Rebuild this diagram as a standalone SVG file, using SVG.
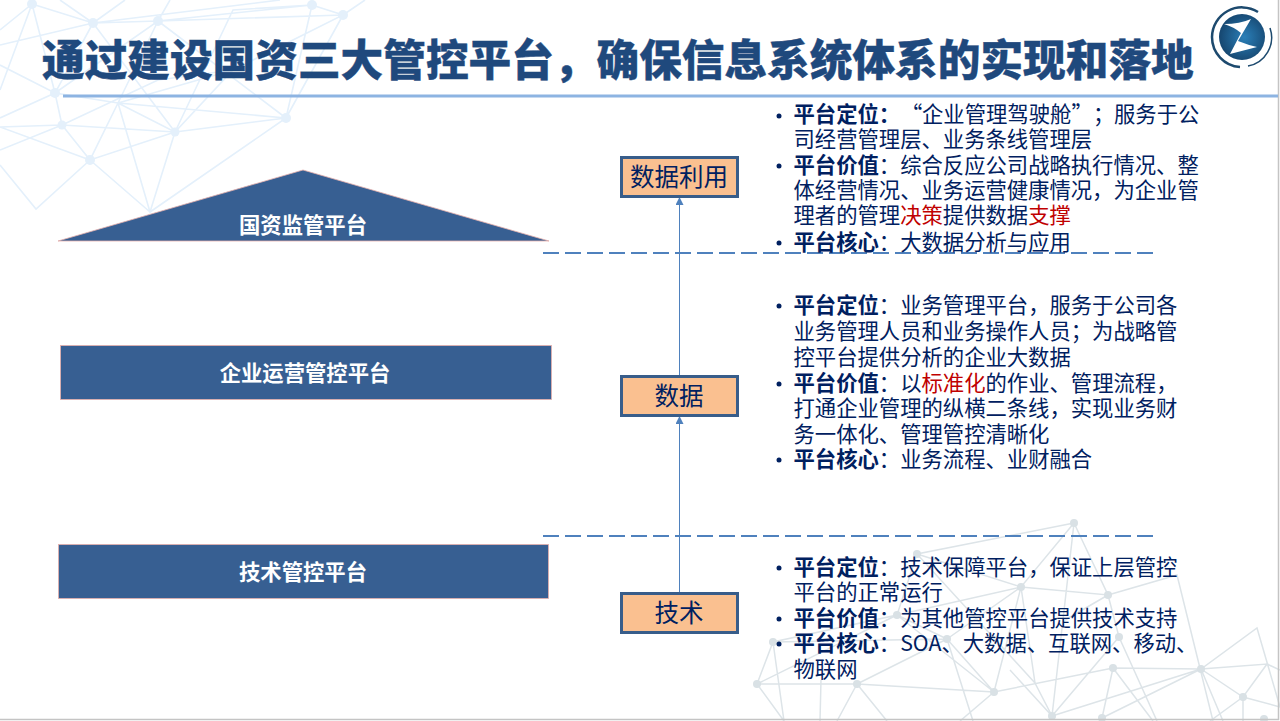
<svg xmlns="http://www.w3.org/2000/svg" width="1280" height="721" viewBox="0 0 1280 721">
<defs>
<style>
text{font-family:"Noto Sans CJK SC","Microsoft YaHei","Noto Sans",sans-serif;text-spacing-trim:space-all}
.title{font-size:42.67px;font-weight:900;fill:#1f497d;stroke:#1f497d;stroke-width:.4px}
.plat{fill:#375f92;stroke:#e6b0ac;stroke-width:.8}
.pl{font-size:21.33px;font-weight:700;fill:#fff;text-anchor:middle}
.box{fill:#fac090;stroke:#385d8a;stroke-width:3}
.bl{font-size:24.5px;fill:#002060;text-anchor:middle}
.body{font-size:21.33px;fill:#002060}
.body .b{font-weight:700}
.body .r{fill:#c00000}
.dot{fill:#002060}
.dash{stroke:#4f81bd;stroke-width:2;stroke-dasharray:16 6;fill:none}
.arr{stroke:#4f81bd;stroke-width:1;fill:none;marker-end:url(#ah)}
.nb{stroke:#e4f0fb;stroke-width:1.6;fill:none}
.nbd{fill:#e4f0fb}
.ng{stroke:#dde4e8;stroke-width:1.5;fill:none}
.ngd{fill:#d9e1e5}
</style>
<marker id="ah" markerUnits="userSpaceOnUse" markerWidth="10" markerHeight="10" refX="8" refY="4" orient="auto"><path d="M0 0L8 4L0 8z" fill="#4f81bd"/></marker>
<radialGradient id="lg" cx=".55" cy=".5" r=".55"><stop offset="0" stop-color="#2a7fb8"/><stop offset="1" stop-color="#16466f"/></radialGradient>
</defs>
<rect width="1280" height="721" fill="#fff"/>
<g id="bg-net-top">
<path class="nb" d="M32 4L93 23L158 21L312 5L343 15L233 70L175 132L118 103L55 93L0 65M93 23L55 93L62 125L0 150M158 21L118 103L90 160L175 132L150 212L118 103M32 4L55 93L118 103L286 118M93 23L175 132M158 21L286 118M312 5L233 10L175 132M312 5L158 21L55 93L0 118M343 15L158 21L93 23L0 45M90 160L36 209L0 165M90 160L150 212M286 118L150 212M175 132L286 118M62 125L90 160L118 103M62 125L175 132M32 4L0 30M93 23L125 0M158 21L170 0M93 23L60 0M343 15L365 0M286 118L343 15M62 125L0 127M90 160L0 127M32 4L0 90M93 23L280 0M233 70L118 103M62 125L158 80L233 70M312 5L286 118"/>
<g class="nbd"><circle cx="32" cy="4" r="5"/><circle cx="93" cy="23" r="5"/><circle cx="158" cy="21" r="5"/><circle cx="312" cy="5" r="5"/><circle cx="343" cy="15" r="5"/><circle cx="55" cy="93" r="5"/><circle cx="62" cy="125" r="4.500"/><circle cx="175" cy="132" r="4.500"/><circle cx="286" cy="118" r="5"/><circle cx="90" cy="160" r="5"/></g>
</g>
<g id="bg-net-bottom">
<path class="ng" d="M1074 523L917 554L897 615L773 642L757 684L857 684L994 692L1113 668L1201 669L1257 628L1280 707M1074 523L1021 587L917 554M1074 523L1108 595L1021 587L897 615M1074 523L1052 716M1108 595L1177 575L1213 721M1108 595L1119 637L1157 721M1021 587L1035 683L1052 716M1113 668L1102 718M1201 669L1267 664L1243 697L1201 669M1267 664L1280 670M1243 697L1243 721M1243 697L1210 721M1201 669L1052 716M1201 669L1102 718M1201 669L1223 721M1243 697L1280 707M1010 670L1052 716M1113 668L1153 721M757 684L897 615M773 642L947 639L994 692M773 642L784 721M757 684L784 721M857 684L947 639M857 684L837 721M857 684L887 721M821 680L820 721M897 615L947 639M897 615L994 692M947 639L1021 587M947 639L973 721M1065 620L1108 595M917 554L1035 683M994 692L960 721M1021 587L994 692M1119 637L1052 716"/>
<g class="ngd"><circle cx="1074" cy="523" r="4"/><circle cx="917" cy="554" r="4"/><circle cx="1021" cy="587" r="4"/><circle cx="1108" cy="595" r="4"/><circle cx="897" cy="615" r="4"/><circle cx="773" cy="642" r="4"/><circle cx="947" cy="639" r="4"/><circle cx="1119" cy="637" r="4"/><circle cx="757" cy="684" r="4"/><circle cx="857" cy="684" r="4"/><circle cx="994" cy="692" r="4"/><circle cx="1113" cy="668" r="4"/><circle cx="1201" cy="669" r="4"/><circle cx="1243" cy="697" r="4"/><circle cx="1052" cy="716" r="4"/><circle cx="1102" cy="718" r="4"/><circle cx="1264" cy="719" r="4"/></g>
</g>
<path d="M1278.500 0V719.500H0" fill="none" stroke="#c4c4c4" stroke-width="1.500"/>
<g id="title"><text class="title" x="42" y="76">通过建设国资三大管控平台，确保信息系统体系的实现和落地</text><rect x="63" y="94.500" width="1215" height="3" fill="#8db4e2"/></g>
<g id="logo">
<circle cx="1242" cy="37" r="23" fill="url(#lg)"/>
<path d="M1258 12A30 30 0 0 0 1212 37A30 30 0 0 0 1240 67" fill="none" stroke="#1d4a6e" stroke-width="2.500"/>
<path d="M1270 28A29 29 0 0 1 1248 66" fill="none" stroke="#1d4a6e" stroke-width="1.500"/>
<path d="M1224 24Q1240 24 1251 19L1238 41Q1248 45 1257 47L1230 54L1241 33Q1234 27 1224 24z" fill="#fff"/>
</g>
<g id="connectors">
<line class="dash" x1="543" y1="253" x2="1153" y2="253"/>
<line class="dash" x1="543" y1="536" x2="1153" y2="536"/>
<line class="arr" x1="679.500" y1="592" x2="679.500" y2="416"/>
<line class="arr" x1="679.500" y1="375" x2="679.500" y2="197"/>
</g>
<g id="node-guozi"><path class="plat" d="M58 241L303 170L549 241z"/><text class="pl" x="303" y="233">国资监管平台</text></g>
<g id="node-qiye"><rect class="plat" x="60.500" y="345.500" width="491" height="54"/><text class="pl" x="305" y="381">企业运营管控平台</text></g>
<g id="node-jishu"><rect class="plat" x="58.500" y="544.500" width="490" height="54"/><text class="pl" x="303" y="580">技术管控平台</text></g>
<g id="node-use"><rect class="box" x="621.500" y="157.500" width="116" height="39"/><text class="bl" x="679" y="186">数据利用</text></g>
<g id="node-data"><rect class="box" x="621.500" y="376.500" width="116" height="39"/><text class="bl" x="679" y="405">数据</text></g>
<g id="node-tech"><rect class="box" x="621.500" y="593.500" width="116" height="39"/><text class="bl" x="679" y="622">技术</text></g>
<g id="desc-top">
<circle class="dot" cx="779" cy="116" r="2.500"/><circle class="dot" cx="779" cy="166" r="2.500"/><circle class="dot" cx="779" cy="243" r="2.500"/>
<text class="body" x="793.500" y="122"><tspan class="b">平台定位：</tspan><tspan x="901">“</tspan><tspan x="922">企业管理驾驶舱</tspan><tspan x="1071.500">”</tspan><tspan x="1093">；</tspan><tspan x="1114">服务于公</tspan></text>
<text class="body" x="793.500" y="147">司经营管理层、业务条线管理层</text>
<text class="body" x="793.500" y="173"><tspan class="b">平台价值</tspan>：综合反应公司战略执行情况、整</text>
<text class="body" x="793.500" y="198">体经营情况、业务运营健康情况，为企业管</text>
<text class="body" x="793.500" y="223">理者的管理<tspan class="r">决策</tspan>提供数据<tspan class="r">支撑</tspan></text>
<text class="body" x="793.500" y="250"><tspan class="b">平台核心</tspan>：大数据分析与应用</text>
</g>
<g id="desc-mid">
<circle class="dot" cx="779" cy="306" r="2.500"/><circle class="dot" cx="779" cy="384" r="2.500"/><circle class="dot" cx="779" cy="460" r="2.500"/>
<text class="body" x="793.500" y="313"><tspan class="b">平台定位</tspan>：业务管理平台，服务于公司各</text>
<text class="body" x="793.500" y="339">业务管理人员和业务操作人员；为战略管</text>
<text class="body" x="793.500" y="365">控平台提供分析的企业大数据</text>
<text class="body" x="793.500" y="391"><tspan class="b">平台价值</tspan>：以<tspan class="r">标准化</tspan>的作业、管理流程，</text>
<text class="body" x="793.500" y="416">打通企业管理的纵横二条线，实现业务财</text>
<text class="body" x="793.500" y="442">务一体化、管理管控清晰化</text>
<text class="body" x="793.500" y="467"><tspan class="b">平台核心</tspan>：业务流程、业财融合</text>
</g>
<g id="desc-bot">
<circle class="dot" cx="779" cy="568" r="2.500"/><circle class="dot" cx="779" cy="619" r="2.500"/><circle class="dot" cx="779" cy="644" r="2.500"/>
<text class="body" x="793.500" y="575"><tspan class="b">平台定位</tspan>：技术保障平台，保证上层管控</text>
<text class="body" x="793.500" y="600">平台的正常运行</text>
<text class="body" x="793.500" y="626"><tspan class="b">平台价值</tspan>：为其他管控平台提供技术支持</text>
<text class="body" x="793.500" y="651"><tspan class="b">平台核心</tspan>：SOA、大数据、互联网、移动、</text>
<text class="body" x="793.500" y="677">物联网</text>
</g>
</svg>
